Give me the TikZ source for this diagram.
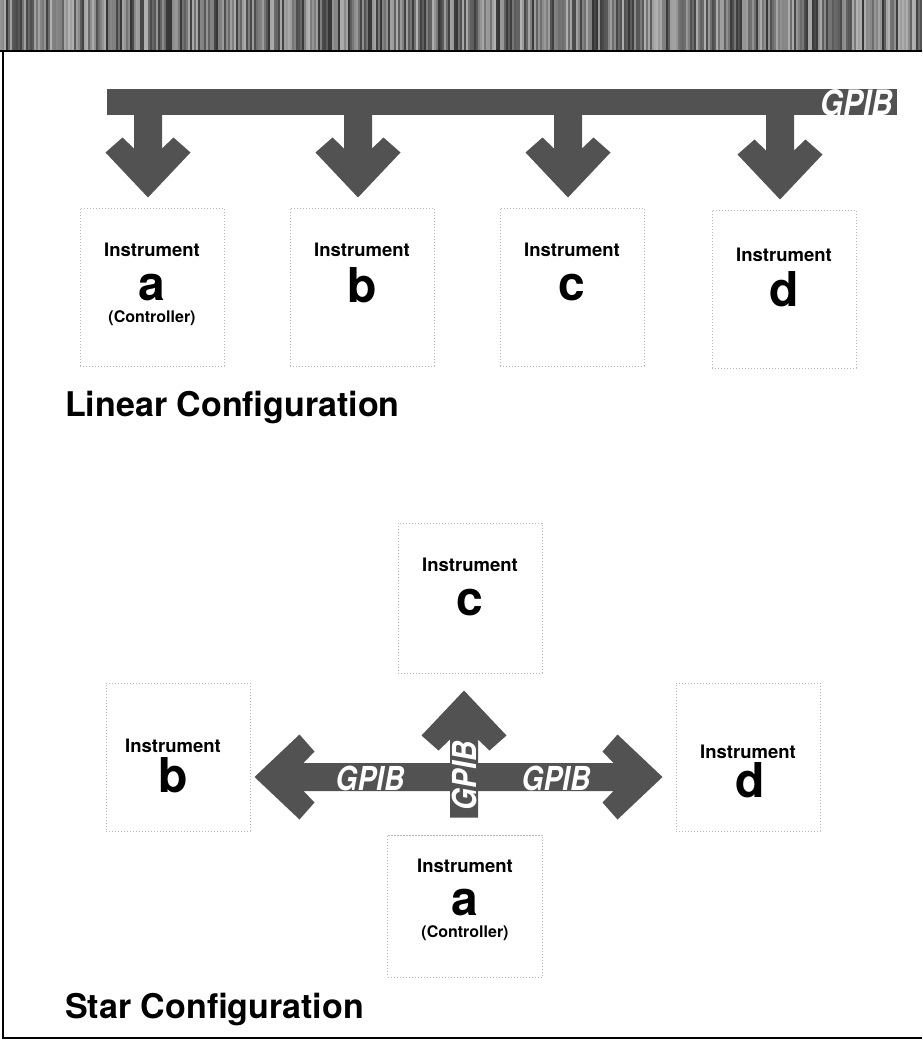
\documentclass[tikz,border=0pt]{standalone}
\usepackage{fontspec}
\setmainfont{TeX Gyre Heros}
\newfontfamily\gpibfont[FakeStretch=0.85]{TeX Gyre Heros}
\usetikzlibrary{positioning,calc}
% broad arrow: tip, direction, length of shaft behind the tip
\newcommand{\fathead}[3]{%
 \fill[busfill,shift={(#1)},rotate=#2] (0,0) -- (-45,42.5) -- (-60,25.5) -- (-49,14)
  -- (-#3,14) -- (-#3,-14) -- (-49,-14) -- (-60,-25.5) -- (-45,-42.5) -- cycle;}

\begin{document}
\begin{tikzpicture}[x=1pt,y=-1pt,
 busfill/.style={fill=black!68},
 box/.style={draw=black!28,dash pattern=on 1.2pt off 1.8pt,line width=1pt,minimum width=144,minimum height=158,inner sep=0pt},
 itext/.style={font=\fontsize{18.5}{20}\selectfont\bfseries},
 letter/.style={font=\fontsize{48}{50}\selectfont\bfseries},
 ctext/.style={font=\fontsize{16}{18}\selectfont\bfseries},
 title/.style={font=\fontsize{34}{38}\selectfont\bfseries,anchor=base west,inner sep=0pt},
 gpib/.style={text=white,font=\fontsize{33}{33}\gpibfont\bfseries\itshape,inner sep=0pt}]
\useasboundingbox (0,0) rectangle (922,1047);
% head band
\fill[black!55] (0,0) rectangle (922,51);
\pgfmathsetseed{42}
\foreach \i in {0,...,460}{
 \pgfmathsetmacro{\g}{int(30+50*rnd)}
 \fill[black!\g] (2*\i,0) rectangle (2*\i+2,51);
}
\draw[line width=1.2pt] (0,51) -- (922,51);
\draw[line width=1.2pt] (3,51) -- (3,1038) -- (922,1038);

% linear
\node (bus) [busfill,minimum width=790,minimum height=26,inner sep=0pt] at (502,102) {};
\node (gl) [gpib,font=\fontsize{35}{35}\gpibfont\bfseries\itshape,anchor=east] at ($(bus.east)+(-4,1)$) {GPIB};

\node (la) [box] at (152,287) {};
\node (la-i) [itext] at ($(la)+(0,-37)$) {Instrument};
\node (la-l) [letter] at ($(la)+(0,1)$) {a};
\node (la-c) [ctext] at ($(la)+(0,31)$) {(Controller)};
\node (lb) [box] at (362,287) {};
\node (lb-i) [itext] at ($(lb)+(0,-37)$) {Instrument};
\node (lb-l) [letter] at ($(lb)+(0,-2)$) {b};
\node (lc) [box] at (572,287) {};
\node (lc-i) [itext] at ($(lc)+(0,-37)$) {Instrument};
\node (lc-l) [letter] at ($(lc)+(0,1)$) {c};
\node (ld) [box] at (784,289) {};
\node (ld-i) [itext] at ($(ld)+(0,-34)$) {Instrument};
\node (ld-l) [letter] at ($(ld)+(0,0)$) {d};
\foreach \b in {la,lb,lc,ld}{
 \coordinate (\b-tip) at ($(\b.north)+(-4,-10)$);
 \fathead{\b-tip}{-90}{92}
}
\node (lin) [title] at (65,416) {Linear Configuration};

% star
\node (sc) [box,minimum height=150] at (470,598) {};
\node (sc-i) [itext] at ($(sc)+(0,-33)$) {Instrument};
\node (sc-l) [letter] at ($(sc)+(0,5)$) {c};
\node (sb) [box,minimum height=148] at (178,757) {};
\node (sb-i) [itext] at ($(sb)+(-5,-11)$) {Instrument};
\node (sb-l) [letter] at ($(sb)+(-5,18)$) {b};
\node (sd) [box,minimum height=148] at (748,757) {};
\node (sd-i) [itext] at ($(sd)+(0,-5)$) {Instrument};
\node (sd-l) [letter] at ($(sd)+(2,23)$) {d};
\node (sa) [box,minimum width=155,minimum height=142] at (465,906) {};
\node (sa-i) [itext] at ($(sa)+(0,-40)$) {Instrument};
\node (sa-l) [letter] at ($(sa)+(0,-3)$) {a};
\node (sa-c) [ctext] at ($(sa)+(0,27)$) {(Controller)};

\coordinate (hub) at (464,777);
\coordinate (tl) at ($(hub -| sb.east)+(4,0)$);
\coordinate (tr) at ($(hub -| sd.west)+(-13,0)$);
\coordinate (tu) at ($(hub |- sc.south)+(0,17)$);
\fathead{tl}{180}{208}
\fathead{tr}{0}{202}
\fathead{tu}{90}{127}
\node (gs1) [gpib] at (370,778) {GPIB};
\node (gs2) [gpib] at (556,778) {GPIB};
\node (gs3) [gpib,rotate=90] at (464,776) {GPIB};
\node (star) [title] at (65,1018) {Star Configuration};
\end{tikzpicture}
\end{document}
